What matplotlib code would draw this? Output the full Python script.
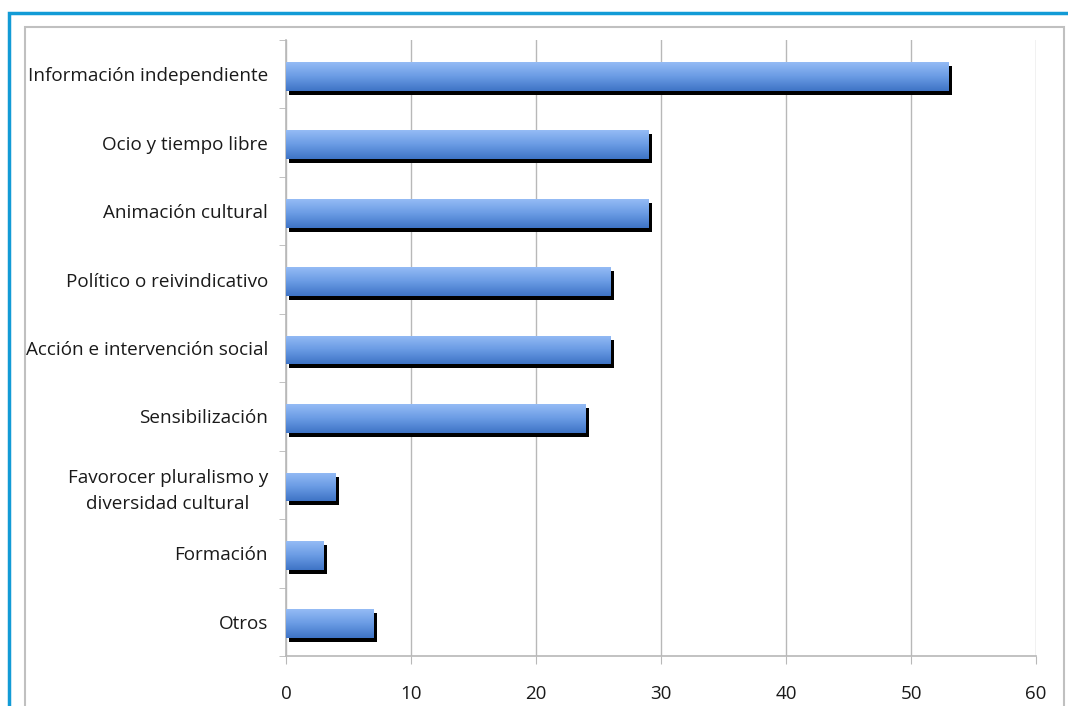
import numpy as np
import matplotlib.pyplot as plt
import matplotlib.transforms as mtransforms
from matplotlib.colors import LinearSegmentedColormap
from matplotlib.patches import Rectangle

categories = ['Información independiente', 'Ocio y tiempo libre', 'Animación cultural',
              'Político o reivindicativo', 'Acción e intervención social', 'Sensibilización',
              'Favorocer pluralismo y\ndiversidad cultural', 'Formación', 'Otros']
values = [53, 29, 29, 26, 26, 24, 4, 3, 7]
x_ticks = [0, 10, 20, 30, 40, 50, 60]

plt.rcParams['font.family'] = ['Open Sans', 'DejaVu Sans']

fig = plt.figure(figsize=(10.68, 7.06), dpi=100)
ax = fig.add_axes([286 / 1068, 50 / 706, 750 / 1068, 616 / 706])

# frame around the chart
fig.patches.append(Rectangle((9 / 1068, -0.1), 1.2, (706 - 13) / 706 + 0.1, transform=fig.transFigure,
                             fill=False, edgecolor='#129bd6', linewidth=2.5))
fig.patches.append(Rectangle((25 / 1068, -0.1), 1039 / 1068, (706 - 27) / 706 + 0.1, transform=fig.transFigure,
                             fill=False, edgecolor='#c0c0c0', linewidth=1.5))

y = np.arange(len(categories))
h = 0.42

# black shadow, shifted a little right and down
shadow = mtransforms.ScaledTranslation(3 / 100, -4 / 100, fig.dpi_scale_trans)
ax.barh(y + 0.03, values, height=h, color='black', transform=ax.transData + shadow, zorder=2)

bars = ax.barh(y + 0.03, values, height=h, color='#6e9de6', zorder=3)
cmap = LinearSegmentedColormap.from_list('b', ['#94bbf5', '#6a9be4', '#3f74c6'])
grad = np.linspace(0, 1, 64).reshape(-1, 1)
for bar, yi, v in zip(bars, y + 0.03, values):
    im = ax.imshow(grad, cmap=cmap, aspect='auto',
                   extent=[0, v, yi + h / 2, yi - h / 2], zorder=4)
    im.set_clip_path(bar)

ax.set_xlim(0, 60)
ax.set_ylim(len(categories) - 0.5, -0.5)
ax.set_xticks(x_ticks)
ax.set_yticks(y)
ax.set_yticklabels(categories, multialignment='center', linespacing=1.55)
ax.set_yticks(np.arange(-0.5, len(categories), 1), minor=True)
ax.grid(axis='x', color='#b8b8b8', linewidth=1)
ax.set_axisbelow(True)

for s in ['top', 'right']:
    ax.spines[s].set_visible(False)
for s in ['left', 'bottom']:
    ax.spines[s].set_color('#b8b8b8')
    ax.spines[s].set_linewidth(1.2)

ax.tick_params(axis='y', which='major', length=0, pad=13, labelsize=13.6, labelcolor='#1a1a1a')
ax.tick_params(axis='y', which='minor', length=5, color='#b8b8b8', direction='out')
ax.tick_params(axis='x', length=6, color='#b8b8b8', pad=15, labelsize=13.5, labelcolor='#1a1a1a')

fig.savefig('out.png', dpi=100)
